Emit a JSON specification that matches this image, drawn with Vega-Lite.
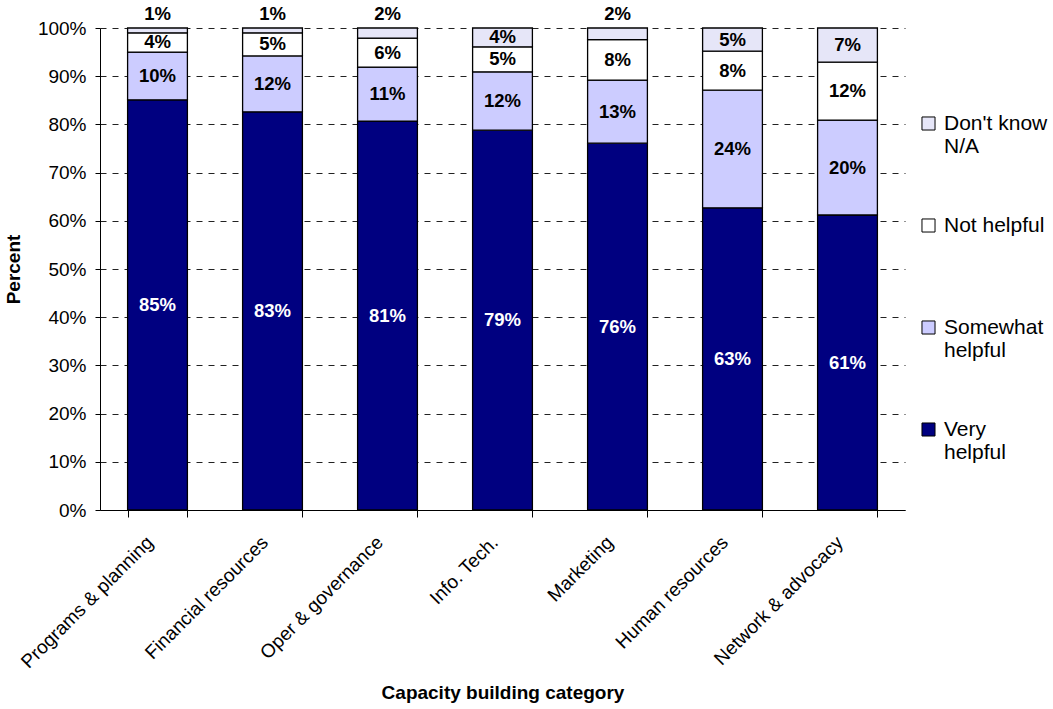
{
  "$schema": "https://vega.github.io/schema/vega-lite/v6.json",
  "autosize": "none",
  "width": 805,
  "height": 482,
  "padding": {"left": 100, "top": 28, "right": 148, "bottom": 199},
  "background": "white",
  "config": {
    "font": "Liberation Sans",
    "view": {"stroke": null},
    "axis": {"labelFont": "Liberation Sans", "titleFont": "Liberation Sans", "labelColor": "black", "titleColor": "black", "domainColor": "black", "tickColor": "black"}
  },
  "data": {
    "values": [
      {"cat": "Programs & planning", "resp": "Very helpful", "o": 1, "v": 85.1, "lbl": "85%"},
      {"cat": "Programs & planning", "resp": "Somewhat helpful", "o": 2, "v": 9.9, "lbl": "10%"},
      {"cat": "Programs & planning", "resp": "Not helpful", "o": 3, "v": 4.0, "lbl": "4%"},
      {"cat": "Programs & planning", "resp": "Don't know N/A", "o": 4, "v": 1.0, "lbl": "1%"},
      {"cat": "Financial resources", "resp": "Very helpful", "o": 1, "v": 82.6, "lbl": "83%"},
      {"cat": "Financial resources", "resp": "Somewhat helpful", "o": 2, "v": 11.6, "lbl": "12%"},
      {"cat": "Financial resources", "resp": "Not helpful", "o": 3, "v": 4.8, "lbl": "5%"},
      {"cat": "Financial resources", "resp": "Don't know N/A", "o": 4, "v": 1.0, "lbl": "1%"},
      {"cat": "Oper & governance", "resp": "Very helpful", "o": 1, "v": 80.7, "lbl": "81%"},
      {"cat": "Oper & governance", "resp": "Somewhat helpful", "o": 2, "v": 11.2, "lbl": "11%"},
      {"cat": "Oper & governance", "resp": "Not helpful", "o": 3, "v": 6.0, "lbl": "6%"},
      {"cat": "Oper & governance", "resp": "Don't know N/A", "o": 4, "v": 2.1, "lbl": "2%"},
      {"cat": "Info. Tech.", "resp": "Very helpful", "o": 1, "v": 78.8, "lbl": "79%"},
      {"cat": "Info. Tech.", "resp": "Somewhat helpful", "o": 2, "v": 12.1, "lbl": "12%"},
      {"cat": "Info. Tech.", "resp": "Not helpful", "o": 3, "v": 5.2, "lbl": "5%"},
      {"cat": "Info. Tech.", "resp": "Don't know N/A", "o": 4, "v": 3.9, "lbl": "4%"},
      {"cat": "Marketing", "resp": "Very helpful", "o": 1, "v": 76.1, "lbl": "76%"},
      {"cat": "Marketing", "resp": "Somewhat helpful", "o": 2, "v": 13.1, "lbl": "13%"},
      {"cat": "Marketing", "resp": "Not helpful", "o": 3, "v": 8.4, "lbl": "8%"},
      {"cat": "Marketing", "resp": "Don't know N/A", "o": 4, "v": 2.4, "lbl": "2%"},
      {"cat": "Human resources", "resp": "Very helpful", "o": 1, "v": 62.7, "lbl": "63%"},
      {"cat": "Human resources", "resp": "Somewhat helpful", "o": 2, "v": 24.4, "lbl": "24%"},
      {"cat": "Human resources", "resp": "Not helpful", "o": 3, "v": 8.1, "lbl": "8%"},
      {"cat": "Human resources", "resp": "Don't know N/A", "o": 4, "v": 4.8, "lbl": "5%"},
      {"cat": "Network & advocacy", "resp": "Very helpful", "o": 1, "v": 61.2, "lbl": "61%"},
      {"cat": "Network & advocacy", "resp": "Somewhat helpful", "o": 2, "v": 19.7, "lbl": "20%"},
      {"cat": "Network & advocacy", "resp": "Not helpful", "o": 3, "v": 12.0, "lbl": "12%"},
      {"cat": "Network & advocacy", "resp": "Don't know N/A", "o": 4, "v": 7.1, "lbl": "7%"}
    ]
  },
  "transform": [
    {"stack": "v", "groupby": ["cat"], "sort": [{"field": "o", "order": "ascending"}], "as": ["y0", "y1"]},
    {"calculate": "(datum.y0 + datum.y1) / 2", "as": "mid"}
  ],
  "encoding": {
    "x": {
      "field": "cat", "type": "nominal", "sort": null,
      "scale": {"paddingInner": 0.48, "paddingOuter": 0.24},
      "axis": {"title": "Capacity building category", "titleFontSize": 19, "titleFontWeight": "bold", "titlePadding": 12,
               "labelAngle": -45, "labelFontSize": 19, "labelAlign": "right", "labelBaseline": "middle", "labelPadding": 22, "labelOffset": -8,
               "ticks": true, "tickBand": "extent", "tickSize": 7, "domainWidth": 1}
    }
  },
  "layer": [
    {
      "mark": {"type": "bar", "stroke": "black", "strokeWidth": 1.3},
      "encoding": {
        "y": {"field": "y0", "type": "quantitative", "scale": {"domain": [0, 100], "nice": false},
              "axis": {"title": "Percent", "titleFontSize": 19, "titleFontWeight": "bold", "titlePadding": 14,
                       "values": [0,10,20,30,40,50,60,70,80,90,100], "labelExpr": "datum.value + '%'",
                       "labelFontSize": 19, "tickSize": 5, "labelPadding": 9,
                       "grid": true, "gridColor": "#222222", "gridDash": [6, 6], "gridWidth": 1}},
        "y2": {"field": "y1"},
        "fill": {
          "field": "resp", "type": "nominal",
          "scale": {"domain": ["Don't know N/A", "Not helpful", "Somewhat helpful", "Very helpful"],
                    "range": ["#e6e6f8", "#ffffff", "#ccccff", "#000080"]},
          "legend": {
            "title": null, "orient": "none", "legendX": 818, "legendY": 85,
            "symbolType": "square", "symbolSize": 170, "symbolStrokeColor": "black", "symbolStrokeWidth": 1,
            "labelFontSize": 21, "labelFont": "Liberation Sans", "labelColor": "black",
            "labelExpr": "datum.label == \"Don't know N/A\" ? [\"Don't know\", \"N/A\"] : datum.label == 'Somewhat helpful' ? ['Somewhat', 'helpful'] : datum.label == 'Very helpful' ? ['Very', 'helpful'] : ['Not helpful', ' ']",
            "rowPadding": 57, "labelOffset": 5, "labelLimit": 200
          }
        }
      }
    },
    {
      "transform": [{"filter": "datum.v >= 3"}],
      "mark": {"type": "text", "fontWeight": "bold", "fontSize": 18.5, "baseline": "middle"},
      "encoding": {
        "y": {"field": "mid", "type": "quantitative"},
        "text": {"field": "lbl"},
        "color": {"condition": {"test": "datum.resp == 'Very helpful'", "value": "white"}, "value": "black"}
      }
    },
    {
      "transform": [{"filter": "datum.v < 3"}],
      "mark": {"type": "text", "fontWeight": "bold", "fontSize": 18.5, "baseline": "bottom", "dy": -4, "color": "black"},
      "encoding": {
        "y": {"field": "y1", "type": "quantitative"},
        "text": {"field": "lbl"}
      }
    }
  ]
}
